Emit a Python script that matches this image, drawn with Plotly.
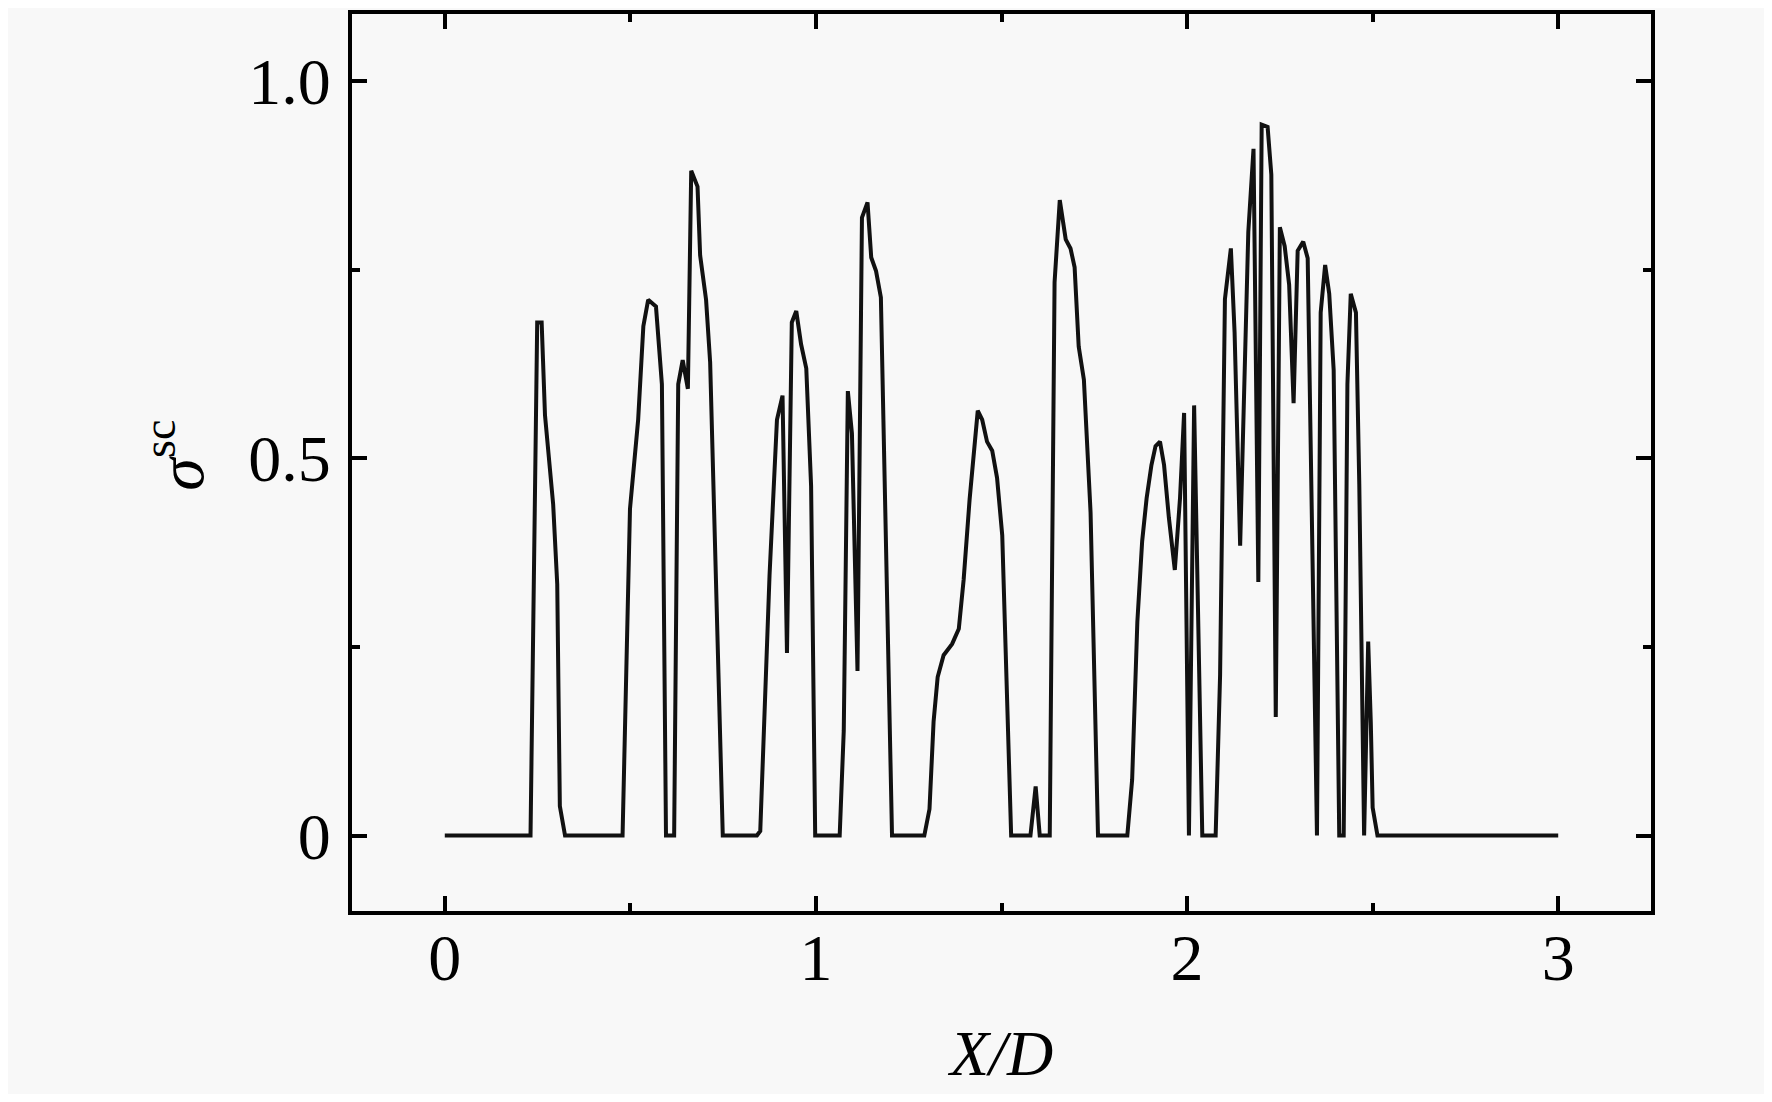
import plotly.graph_objects as go

# sigma_sc profile along X/D
x_d = [0.0, 0.231, 0.249, 0.261, 0.270, 0.283, 0.292, 0.303, 0.310, 0.324,
       0.479, 0.499, 0.521, 0.535, 0.548, 0.569, 0.585, 0.596,
       0.618, 0.629, 0.641, 0.655, 0.664, 0.681, 0.688, 0.704, 0.715, 0.749,
       0.841, 0.850, 0.863, 0.875, 0.895, 0.910, 0.922, 0.935, 0.947, 0.960,
       0.974, 0.987, 0.998,
       1.064, 1.075, 1.086, 1.097, 1.112, 1.124, 1.139, 1.149, 1.162, 1.175, 1.205,
       1.292, 1.306, 1.317, 1.328, 1.344, 1.367, 1.385, 1.398, 1.414, 1.436,
       1.448, 1.461, 1.475, 1.488, 1.502, 1.526,
       1.578, 1.592, 1.603, 1.630, 1.643, 1.657, 1.673, 1.686, 1.697, 1.708,
       1.722, 1.740, 1.760,
       1.839, 1.852, 1.866, 1.879, 1.891, 1.904, 1.915, 1.927, 1.938, 1.951,
       1.967, 1.981, 1.992, 2.005, 2.019, 2.041,
       2.077, 2.089, 2.102, 2.118, 2.128, 2.143, 2.153, 2.165, 2.179, 2.192,
       2.201, 2.217, 2.227, 2.239, 2.250, 2.263, 2.275, 2.287, 2.298, 2.313,
       2.325, 2.350, 2.360, 2.372, 2.383, 2.395, 2.410, 2.422, 2.432, 2.441,
       2.455, 2.464, 2.477, 2.488, 2.495, 2.500, 2.513, 3.0]
sigma_sc = [0.0, 0.0, 0.680, 0.680, 0.557, 0.492, 0.439, 0.333, 0.039, 0.0,
            0.0, 0.433, 0.551, 0.675, 0.710, 0.701, 0.598, 0.0,
            0.0, 0.598, 0.630, 0.592, 0.881, 0.860, 0.769, 0.710, 0.627, 0.0,
            0.0, 0.006, 0.180, 0.345, 0.551, 0.583, 0.242, 0.680, 0.695, 0.651,
            0.619, 0.463, 0.0,
            0.0, 0.139, 0.589, 0.533, 0.218, 0.819, 0.839, 0.766, 0.748, 0.713, 0.0,
            0.0, 0.035, 0.151, 0.210, 0.239, 0.254, 0.274, 0.339, 0.445, 0.563,
            0.551, 0.522, 0.510, 0.474, 0.398, 0.0,
            0.0, 0.065, 0.0, 0.0, 0.733, 0.842, 0.790, 0.778, 0.753, 0.648,
            0.604, 0.428, 0.0,
            0.0, 0.074, 0.283, 0.390, 0.447, 0.491, 0.516, 0.522, 0.491, 0.421,
            0.352, 0.447, 0.560, 0.0, 0.570, 0.0,
            0.0, 0.213, 0.711, 0.778, 0.667, 0.384, 0.592, 0.800, 0.910, 0.336,
            0.942, 0.939, 0.876, 0.157, 0.806, 0.781, 0.730, 0.573, 0.775, 0.787,
            0.765, 0.0, 0.693, 0.756, 0.718, 0.617, 0.0, 0.0, 0.598, 0.718,
            0.693, 0.466, 0.0, 0.257, 0.150, 0.037, 0.0, 0.0]

y_tickvals = [0, 0.5, 1.0]
y_ticktext = ['0', '0.5', '1.0']

serif = 'Liberation Serif'

fig = go.Figure()
fig.add_trace(go.Scatter(x=x_d, y=sigma_sc, mode='lines',
                         line=dict(color='#111111', width=4),
                         showlegend=False))

axis_style = dict(showline=True, linecolor='black', linewidth=4, mirror='ticks',
                  ticks='inside', ticklen=15, tickwidth=3.5, tickcolor='black',
                  showgrid=False, zeroline=False,
                  tickfont=dict(family=serif, size=66, color='black'))

fig.update_xaxes(range=[-0.25, 3.25], tickvals=[0, 1, 2, 3],
                 minor=dict(tickvals=[0.5, 1.5, 2.5], ticks='inside', ticklen=8,
                            tickwidth=3.5, tickcolor='black'),
                 ticklabelstandoff=-14, **axis_style)
fig.update_yaxes(range=[-0.1, 1.0887], tickvals=y_tickvals, ticktext=y_ticktext,
                 minor=dict(tickvals=[0.25, 0.75], ticks='inside', ticklen=8,
                            tickwidth=3.5, tickcolor='black'),
                 ticklabelstandoff=4, **axis_style)

fig.add_annotation(text='<i>X/D</i>', xref='paper', yref='paper', x=0.499, y=-0.159,
                   showarrow=False, xanchor='center', yanchor='middle',
                   font=dict(family=serif, size=64, color='black'))
fig.add_annotation(text='<i>σ</i><sup>sc</sup>', xref='paper', yref='paper',
                   x=-0.136, y=0.508, textangle=-90, showarrow=False,
                   xanchor='center', yanchor='middle',
                   font=dict(family=serif, size=66, color='black'))

fig.update_layout(width=1756, height=1086,
                  margin=dict(l=344, r=113, t=2, b=183),
                  plot_bgcolor='#f8f8f8', paper_bgcolor='#f8f8f8')

fig.write_html("out.html")
